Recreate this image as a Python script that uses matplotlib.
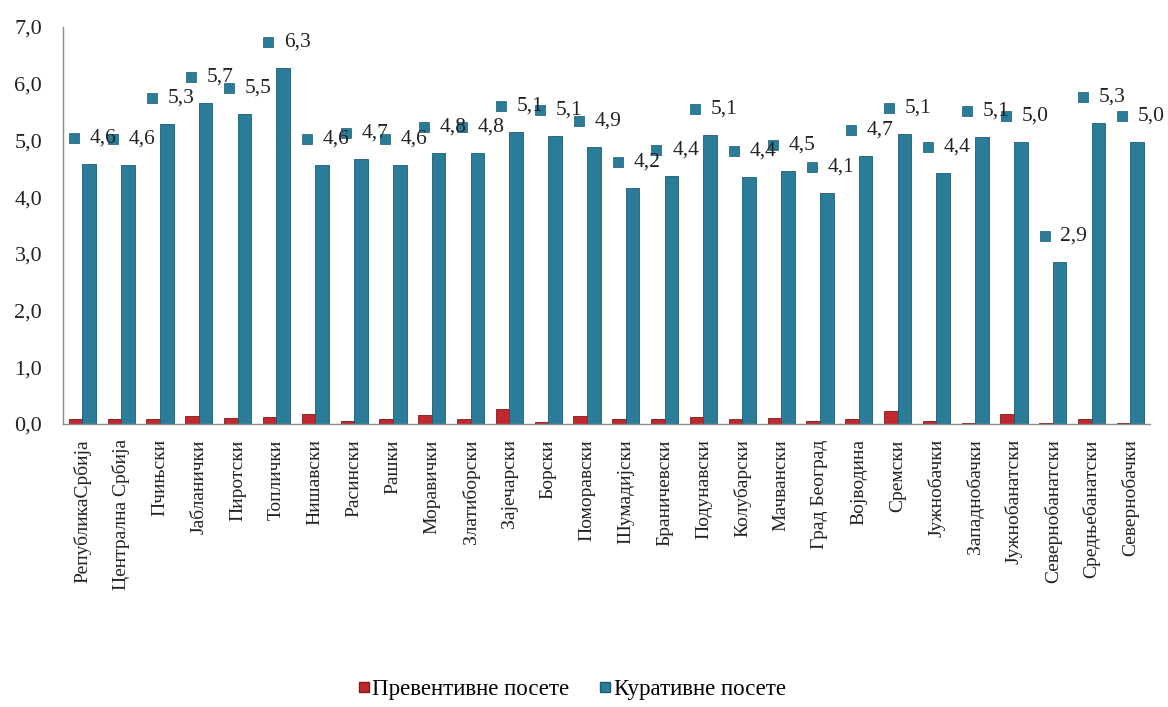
"""
Preventive vs curative visits per district, grouped bars with keyed labels
"""
import numpy as np
import matplotlib
matplotlib.use("Agg")
import matplotlib.pyplot as plt
from matplotlib.lines import Line2D
from matplotlib.transforms import offset_copy

plt.rcParams['font.family'] = ['Liberation Serif', 'DejaVu Serif']

districts = ["РепубликаСрбија", "Централна Србија", "Пчињски", "Јабланички",
             "Пиротски", "Топлички", "Нишавски", "Расински", "Рашки",
             "Моравички", "Златиборски", "Зајечарски", "Борски", "Поморавски",
             "Шумадијски", "Браничевски", "Подунавски", "Колубарски",
             "Мачвански", "Град Београд", "Војводина", "Сремски", "Јужнобачки",
             "Западнобачки", "Јужнобанатски", "Севернобанатски",
             "Средњебанатски", "Севернобачки"]
preventive = [0.08, 0.08, 0.08, 0.14, 0.11, 0.13, 0.17, 0.06, 0.09, 0.15,
              0.09, 0.26, 0.03, 0.14, 0.08, 0.08, 0.13, 0.09, 0.11, 0.05,
              0.08, 0.23, 0.05, 0.02, 0.17, 0.02, 0.08, 0.02]
curative = [4.58, 4.56, 5.29, 5.66, 5.46, 6.27, 4.56, 4.67, 4.56, 4.78,
            4.78, 5.14, 5.08, 4.89, 4.16, 4.38, 5.09, 4.36, 4.46, 4.08,
            4.72, 5.11, 4.42, 5.06, 4.97, 2.86, 5.30, 4.97]
yticks = [0, 1, 2, 3, 4, 5, 6, 7]

red = "#C0282D"
red_edge = "#7E1A1D"
teal = "#2B7C99"
teal_edge = "#1C5A70"

fig = plt.figure(figsize=(11.68, 7.07), dpi=100)
ax = fig.add_axes([0.0539, 0.4003, 0.9306, 0.5615])

x = np.arange(len(districts))
w = 0.35
ax.bar(x - w / 2, preventive, w, color=red, edgecolor=red_edge, linewidth=0.6)
ax.bar(x + w / 2, curative, w, color=teal, edgecolor=teal_edge, linewidth=0.6)

# data labels: small square key followed by the value
key_tr = offset_copy(ax.transData, fig=fig, x=-15, y=26, units='dots')
for xi, v in zip(x, curative):
    ax.plot(xi + w / 2, v, marker='s', markersize=7, color=teal,
            markeredgecolor=teal_edge, markeredgewidth=0.5,
            transform=key_tr, clip_on=False)
    ax.annotate(f"{v:.1f}".replace('.', ','), (xi + w / 2, v),
                xytext=(0.5, 18.7), textcoords='offset points',
                ha='left', va='center', fontsize=15.5, color='#222222')

ax.set_xlim(-0.5, len(districts) - 0.5)
ax.set_ylim(0, 7)
ax.set_yticks(yticks)
ax.set_yticklabels([f"{t:.1f}".replace('.', ',') for t in yticks])
ax.set_xticks(x)
ax.set_xticklabels(districts, rotation=90)
ax.tick_params(axis='y', length=0, pad=15, labelsize=16, labelcolor='#222222')
ax.tick_params(axis='x', length=0, pad=11, labelsize=14, labelcolor='#222222')

for side in ('top', 'right'):
    ax.spines[side].set_visible(False)
for side in ('left', 'bottom'):
    ax.spines[side].set_color('#8c8c8c')
    ax.spines[side].set_linewidth(1.0)

handles = [Line2D([], [], marker='s', linestyle='none', markersize=6.5,
                  color=red, markeredgecolor=red_edge),
           Line2D([], [], marker='s', linestyle='none', markersize=6.5,
                  color=teal, markeredgecolor=teal_edge)]
fig.legend(handles, ["Превентивне посете", "Куративне посете"],
           loc='center', bbox_to_anchor=(0.489, 1 - 689 / 707), ncol=2,
           frameon=False, fontsize=16.5, handletextpad=0.05,
           columnspacing=1.3, handlelength=0.6)

fig.savefig("out.png", dpi=100)
